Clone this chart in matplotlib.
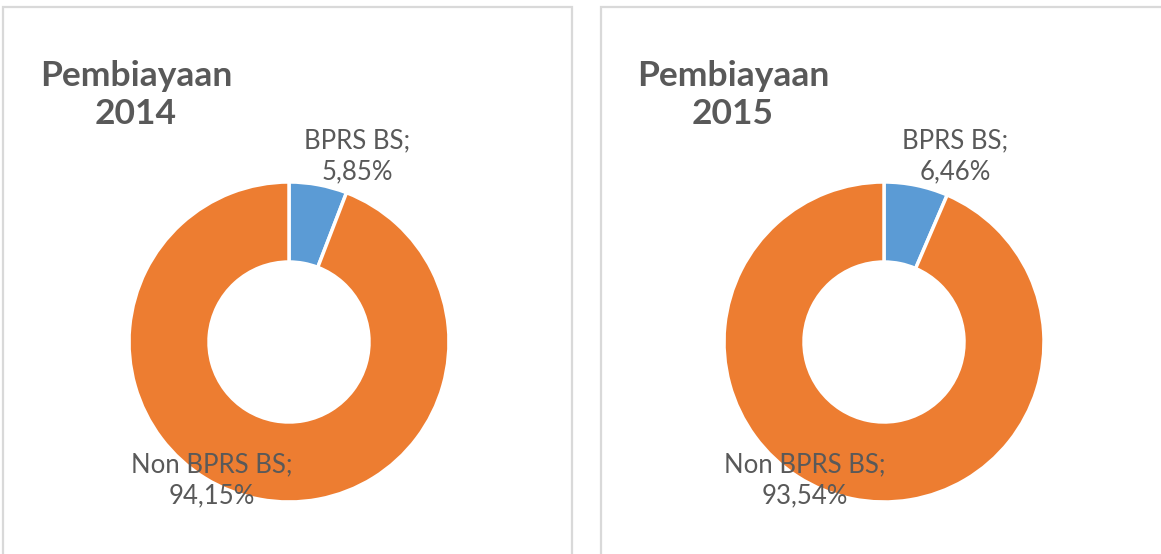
import matplotlib.pyplot as plt
from matplotlib.patches import Rectangle

plt.rcParams['font.family'] = ['Lato', 'DejaVu Sans']

# data
years = ['2014', '2015']
labels = ['BPRS BS', 'Non BPRS BS']
share_2014 = [5.85, 94.15]
share_2015 = [6.46, 93.54]
shares = [share_2014, share_2015]
colors = ['#5B9BD5', '#ED7D31']

W, H = 1161, 554
fig = plt.figure(figsize=(W / 100, H / 100), dpi=100)
fig.patch.set_facecolor('white')

def fx(px):
    return px / W

def fy(py):
    return 1 - py / H

# panel boxes (pixel geometry)
panels = [
    {'x0': 3, 'x1': 572, 'cx': 289, 'title_x': 136, 'blue_x': 357, 'non_x': 212},
    {'x0': 601, 'x1': 1175, 'cx': 884, 'title_x': 733, 'blue_x': 955, 'non_x': 805},
]
cy, r = 342, 160

def fmt(v):
    return f"{v:.2f}%".replace('.', ',')

for p, year, vals in zip(panels, years, shares):
    fig.patches.append(Rectangle((fx(p['x0']), fy(560)), fx(p['x1'] - p['x0']), fy(7) - fy(560),
                                 transform=fig.transFigure, fill=False,
                                 edgecolor='#d9d9d9', linewidth=1.6))

    ax = fig.add_axes([fx(p['cx'] - r), fy(cy + r), fx(2 * r), (2 * r) / H])
    ax.pie(vals, colors=colors, startangle=90, counterclock=False, radius=1,
           wedgeprops=dict(width=0.5, edgecolor='white', linewidth=2.5))
    ax.set_xlim(-1.0, 1.0)
    ax.set_ylim(-1.0, 1.0)
    ax.set_aspect('equal')
    ax.axis('off')

    fig.text(fx(p['title_x']), fy(95), 'Pembiayaan\n' + year, ha='center', va='center',
             fontsize=25.5, fontweight='bold', color='#595959', linespacing=1.2)

    fig.text(fx(p['blue_x']), fy(156), f"{labels[0]};\n{fmt(vals[0])}", ha='center', va='center',
             fontsize=18.5, color='#595959', linespacing=1.3)
    fig.text(fx(p['non_x']), fy(480), f"{labels[1]};\n{fmt(vals[1])}", ha='center', va='center',
             fontsize=18.5, color='#595959', linespacing=1.3)

fig.savefig('out.png', dpi=100, facecolor='white')
